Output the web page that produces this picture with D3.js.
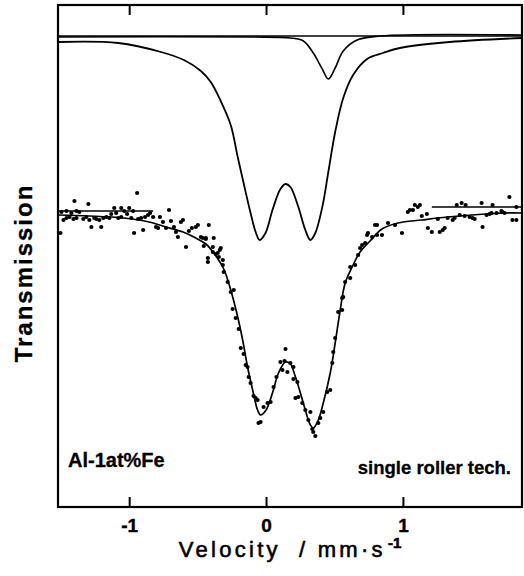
<!DOCTYPE html>
<html>
<head>
<meta charset="utf-8">
<script src="https://cdn.jsdelivr.net/npm/d3@7"></script>
<style>
  html, body { margin: 0; padding: 0; background: #fff; }
  svg { display: block; }
  text { font-family: "Liberation Sans", Arial, Helvetica, sans-serif; fill: #000; }
</style>
</head>
<body>
<svg id="chart" width="524" height="576"></svg>
<script>
// ---------- data (velocity in mm/s, transmission in relative %) ----------
const velocityTicks = [-1, 0, 1];
const velocityDomain = [-1.52, 1.87];
const transmissionDomain = [94.08, 104.12];

// measured spectrum points [velocity, transmission]
const measured = [
  [-1.40,100.20],[-1.298,100.14],[-1.495,99.98],[-1.458,100.00],[-1.422,99.96],[-1.385,100.00],
  [-1.364,99.98],[-1.48,99.82],[-1.458,99.86],[-1.436,99.88],[-1.407,99.84],[-1.385,99.86],
  [-1.335,99.84],[-1.313,99.88],[-1.291,99.82],[-1.276,99.68],[-1.255,99.86],[-1.24,99.84],
  [-1.218,99.82],[-1.204,99.68],[-1.189,99.86],[-1.167,99.88],[-1.145,99.86],[-1.131,99.94],
  [-1.109,100.06],[-1.095,99.96],[-1.08,99.86],[-1.058,100.06],[-1.058,99.88],[-1.036,100.00],
  [-1.015,99.94],[-1.00,100.06],[-0.985,99.86],[-0.971,100.00],[-0.964,99.56],[-0.935,99.84],
  [-0.913,99.86],[-0.898,99.62],[-0.884,99.88],[-0.862,99.92],[-0.847,99.96],[-0.825,99.88],
  [-0.804,99.68],[-0.789,99.66],[-0.775,99.88],[-0.753,99.78],[-0.731,99.66],[-0.709,100.02],
  [-0.695,99.80],[-0.673,99.68],[-0.658,99.58],[-0.644,99.48],[-0.622,99.78],[-0.607,99.82],
  [-0.585,99.28],[-0.564,99.60],[-0.542,99.66],[-0.513,99.68],[-0.498,99.72],[-0.462,99.46],
  [-0.44,99.46],[-0.418,99.72],[-0.389,99.28],[-0.353,99.16],[-0.331,99.26],[-0.425,99.06],
  [-0.345,99.08],[-0.316,99.02],[-0.942,100.36],[-0.382,99.46],[-1.502,99.56],
  [-0.476,99.48],[-0.44,99.44],[-0.455,99.30],[-0.425,98.98],[-0.389,99.18],[-0.367,99.14],
  [-0.338,99.22],[-0.316,98.92],[-0.309,98.78],[-0.28,98.58],[-0.258,98.38],[-0.236,98.42],
  [-0.244,98.04],[-0.222,97.86],[-0.20,97.64],[-0.185,97.26],[-0.164,97.14],[-0.149,96.92],
  [-0.135,96.88],[-0.127,96.68],[-0.113,96.56],[-0.091,96.30],[-0.076,96.26],[-0.062,96.22],
  [-0.055,95.76],[-0.04,95.78],[-0.018,96.08],[0.011,96.16],[0.033,96.18],[0.055,96.48],
  [0.076,96.68],[0.105,96.98],[0.12,96.82],[0.142,97.24],[0.156,96.78],[0.178,96.96],
  [0.20,96.88],[0.229,96.58],[0.236,96.28],
  [0.135,97.00],[0.20,96.64],[0.215,96.26],[0.265,96.16],[0.287,96.02],[0.324,95.98],
  [0.309,95.82],[0.338,95.64],[0.345,95.58],[0.36,95.50],[0.382,95.76],[0.396,95.86],
  [0.418,95.98],[0.447,96.38],[0.469,96.42],[0.484,96.96],[0.491,97.18],[0.505,97.46],
  [0.527,97.98],[0.556,98.02],[0.556,98.26],[0.578,98.58],[0.615,98.66],[0.615,98.88],
  [0.651,98.92],[0.673,99.12],[0.702,99.32],[0.724,99.36],[0.738,99.52],[0.775,99.48],
  [0.811,99.52],
  [0.564,98.28],[0.687,99.26],[0.796,99.72],[0.847,99.52],[0.891,99.76],[0.942,99.72],
  [0.993,99.56],[1.051,100.02],[1.087,100.12],[1.124,100.12],[1.182,99.66],[1.211,99.58],
  [1.255,99.84],[1.269,99.58],[1.305,99.66],[1.364,99.82],[1.393,100.12],[1.429,100.16],
  [1.458,100.12],[1.509,99.86],[1.575,100.16],[1.582,99.68],[1.611,99.92],[1.647,99.96],
  [1.655,100.12],[1.684,99.96],[1.727,99.98],[1.778,100.28],[1.80,99.82],[1.829,99.82],
  [0.745,99.56],[0.811,99.72],[1.036,99.98],[1.073,100.02],[1.109,100.08],[1.138,99.90],
  [1.175,99.94],[1.291,99.62],[1.327,99.86],[1.378,99.86],[1.487,99.88],[1.524,99.84],
  [1.72,100.00],[1.829,100.08],[1.415,99.92],[1.451,99.90],[1.633,99.94],[1.742,99.96]
];

// fitted total spectrum [velocity, transmission]
const fitCurve = [
  [-1.52,99.92],[-1.291,99.90],[-1.044,99.86],[-0.855,99.78],[-0.731,99.68],[-0.607,99.58],
  [-0.513,99.46],[-0.44,99.34],[-0.382,99.16],[-0.309,98.84],[-0.258,98.42],[-0.207,97.88],
  [-0.171,97.42],[-0.135,96.88],[-0.098,96.42],[-0.062,96.02],[-0.04,95.92],[0.00,96.02],
  [0.047,96.36],[0.091,96.76],[0.142,96.98],[0.178,96.94],[0.215,96.68],[0.251,96.36],
  [0.287,96.02],[0.324,95.72],[0.345,95.66],[0.382,95.82],[0.418,96.16],[0.469,96.76],
  [0.505,97.36],[0.542,98.02],[0.578,98.56],[0.629,98.88],[0.687,99.18],[0.76,99.40],
  [0.847,99.64],[0.964,99.76],[1.138,99.82],[1.255,99.86],[1.502,99.92],[1.742,99.96],[1.87,99.96]
];

// quadrupole doublet sub-spectrum (offset above)
const doubletCurve = [
  [-1.52,103.38],[-1.08,103.36],[-0.767,103.18],[-0.60,103.02],[-0.476,102.80],[-0.404,102.58],
  [-0.331,102.20],[-0.258,101.72],[-0.207,101.08],[-0.164,100.56],[-0.113,99.96],[-0.076,99.58],
  [-0.047,99.42],[-0.004,99.56],[0.047,100.02],[0.105,100.44],[0.142,100.54],[0.178,100.48],
  [0.236,100.08],[0.287,99.62],[0.324,99.42],[0.36,99.56],[0.411,100.08],[0.455,100.78],
  [0.505,101.58],[0.564,102.26],[0.636,102.72],[0.738,103.04],[0.855,103.16],[0.978,103.26],
  [1.342,103.38],[1.87,103.46]
];

// singlet sub-spectrum (offset above)
const singletCurve = [
  [-1.52,103.48],[-0.113,103.48],[0.178,103.46],[0.273,103.40],[0.345,103.16],[0.411,102.84],
  [0.455,102.64],[0.505,102.86],[0.564,103.20],[0.665,103.42],[0.833,103.50],[1.87,103.52]
];

// baseline markers
const subBaseline = [[-1.52,103.50],[1.87,103.50]];
const leftBaseline = [[-1.52,100.00],[-0.825,100.00]];
const rightBaseline = [[1.211,100.08],[1.87,100.08]];

// ---------- drawing ----------
const plot = { left: 58, right: 522, top: 5, bottom: 507 };
const svg = d3.select("#chart");

const x = d3.scaleLinear().domain(velocityDomain).range([plot.left, plot.right]);
const y = d3.scaleLinear().domain(transmissionDomain).range([plot.bottom, plot.top]);

const line = d3.line().x(d => x(d[0])).y(d => y(d[1])).curve(d3.curveCatmullRom.alpha(0.5));
const straight = d3.line().x(d => x(d[0])).y(d => y(d[1]));

svg.append("clipPath").attr("id", "clip").append("rect")
  .attr("x", plot.left).attr("y", plot.top)
  .attr("width", plot.right - plot.left).attr("height", plot.bottom - plot.top);

const g = svg.append("g").attr("clip-path", "url(#clip)");

g.append("path").datum(subBaseline).attr("d", straight)
  .attr("fill", "none").attr("stroke", "#000").attr("stroke-width", 1.6);
g.append("path").datum(singletCurve).attr("d", line)
  .attr("fill", "none").attr("stroke", "#000").attr("stroke-width", 1.6);
g.append("path").datum(doubletCurve).attr("d", line)
  .attr("fill", "none").attr("stroke", "#000").attr("stroke-width", 1.8);

g.append("path").datum(leftBaseline).attr("d", straight)
  .attr("fill", "none").attr("stroke", "#000").attr("stroke-width", 1.3);
g.append("path").datum(rightBaseline).attr("d", straight)
  .attr("fill", "none").attr("stroke", "#000").attr("stroke-width", 1.3);

g.append("path").datum(fitCurve).attr("d", line)
  .attr("fill", "none").attr("stroke", "#000").attr("stroke-width", 1.7);

g.selectAll("circle.pt").data(measured).join("circle")
  .attr("class", "pt")
  .attr("cx", d => x(d[0])).attr("cy", d => y(d[1]))
  .attr("r", 2.1).attr("fill", "#000");

// frame
svg.append("rect")
  .attr("x", plot.left).attr("y", plot.top)
  .attr("width", plot.right - plot.left).attr("height", plot.bottom - plot.top)
  .attr("fill", "none").attr("stroke", "#000").attr("stroke-width", 2.2);

// axes
const xAxis = d3.axisBottom(x).tickValues(velocityTicks).tickSize(-10).tickPadding(11.5)
  .tickFormat(d => String(d));
const axB = svg.append("g").attr("transform", `translate(0,${plot.bottom})`).call(xAxis);
axB.select(".domain").remove();
axB.selectAll(".tick line").attr("stroke", "#000").attr("stroke-width", 2);
axB.selectAll(".tick text")
  .style("font-family", '"Liberation Sans", Arial, sans-serif')
  .style("font-size", "19px").style("font-weight", "bold")
  .attr("fill", "#000").attr("stroke", "#000").attr("stroke-width", 0.4);

const axT = svg.append("g").attr("transform", `translate(0,${plot.top})`)
  .call(d3.axisTop(x).tickValues(velocityTicks).tickSize(-10).tickFormat(""));
axT.select(".domain").remove();
axT.selectAll(".tick line").attr("stroke", "#000").attr("stroke-width", 2);

// axis titles
const xt = svg.append("text")
  .attr("x", 290).attr("y", 557)
  .attr("text-anchor", "middle")
  .attr("stroke", "#000").attr("stroke-width", 0.6)
  .style("font-size", "22px").style("letter-spacing", "3.3px");
xt.append("tspan").text("Velocity");
xt.append("tspan").attr("dx", 18).text("/ mm\u00b7s");
xt.append("tspan").attr("dy", -9).attr("dx", 2)
  .style("font-size", "15px").style("font-weight", "bold").style("letter-spacing", "0px").text("-1");

svg.append("text")
  .attr("transform", "translate(32,273) rotate(-90)")
  .attr("text-anchor", "middle")
  .attr("stroke", "#000").attr("stroke-width", 0.3)
  .style("font-size", "24px").style("font-weight", "bold").style("letter-spacing", "2px")
  .text("Transmission");

// annotations
svg.append("text").attr("x", 68).attr("y", 467)
  .attr("stroke", "#000").attr("stroke-width", 0.3)
  .style("font-size", "20px").style("font-weight", "bold")
  .text("Al-1at%Fe");
svg.append("text").attr("x", 511).attr("y", 474)
  .attr("text-anchor", "end")
  .attr("stroke", "#000").attr("stroke-width", 0.3)
  .style("font-size", "18.5px").style("font-weight", "bold")
  .text("single roller tech.");
</script>
</body>
</html>
